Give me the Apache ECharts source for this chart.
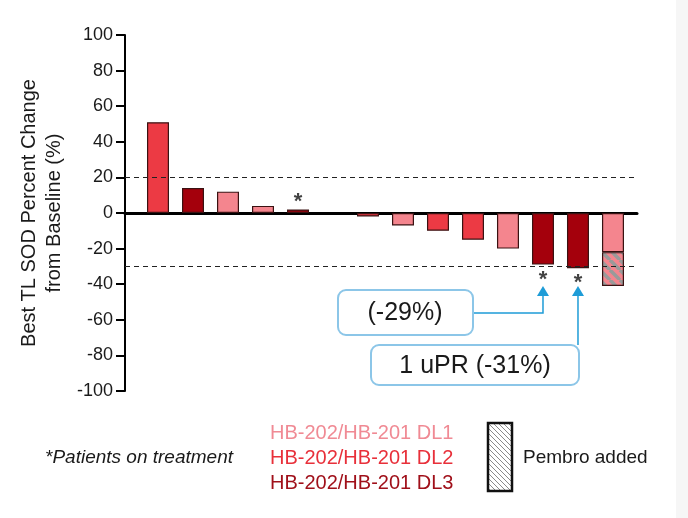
<!DOCTYPE html>
<html>
<head>
<meta charset="utf-8">
<script src="https://cdn.jsdelivr.net/npm/echarts@6/dist/echarts.min.js"></script>
<style>html,body{margin:0;padding:0;background:#fff}#c{width:688px;height:518px}</style>
</head>
<body>
<div id="c"></div>
<script>
// ---- data ----
const patients = ['P1','P2','P3','P4','P5','P6','P7','P8','P9','P10','P11','P12','P13','P14'];
const bestChange = [51, 14, 12, 4, 2, null, -2, -7, -10, -15, -20, -29, -31, -41];
const doseLevel = [2, 3, 1, 1, 3, null, 2, 1, 2, 2, 1, 3, 3, 1];
const pembroStart = [null, null, null, null, null, null, null, null, null, null, null, null, null, -22];
const onTreatment = [false, false, false, false, true, false, false, false, false, false, false, true, true, false];
const yTicks = [-100, -80, -60, -40, -20, 0, 20, 40, 60, 80, 100];
const refLines = [20, -30];
const legendLabels = ['HB-202/HB-201 DL1', 'HB-202/HB-201 DL2', 'HB-202/HB-201 DL3'];
const callouts = [{patient: 11, text: '(-29%)'}, {patient: 12, text: '1 uPR (-31%)'}];

const FONT = '"Liberation Sans", Arial, sans-serif';
const doseColors = {1: '#F4858E', 2: '#EC3A44', 3: '#A4000C'};
const legendColors = ['#F08A94', '#E8303A', '#A0101A'];
const border = '#3a1212';

function hatch(bg, stroke, size, lw) {
  const c = document.createElement('canvas');
  c.width = size; c.height = size;
  const g = c.getContext('2d');
  g.fillStyle = bg; g.fillRect(0, 0, size, size);
  g.strokeStyle = stroke; g.lineWidth = lw;
  for (const o of [-size, 0, size]) {
    g.beginPath(); g.moveTo(o, 0); g.lineTo(o + size, size); g.stroke();
  }
  return c;
}
const barHatch = {image: hatch(doseColors[1], '#9a9a9a', 10, 3.5), repeat: 'repeat'};
const legHatch = {image: hatch('#ffffff', '#8a8a8a', 5, 1), repeat: 'repeat'};

// data rows are [value, index] so that stacking happens on the y dimension
const baseData = bestChange.map((v, i) => {
  if (v == null) return [null, i];
  const val = pembroStart[i] != null ? pembroStart[i] : v;
  return {value: [val, i], itemStyle: {color: doseColors[doseLevel[i]]}};
});
const pembroData = bestChange.map((v, i) => pembroStart[i] != null ? [v - pembroStart[i], i] : [null, i]);
const starData = [];
bestChange.forEach((v, i) => { if (onTreatment[i]) starData.push({value: [i, v], label: {position: v >= 0 ? 'top' : 'bottom', distance: v >= 0 ? -3 : 4}}); });

const chart = echarts.init(document.getElementById('c'), null, {renderer: 'canvas'});
chart.setOption({
  animation: false,
  backgroundColor: '#ffffff',
  grid: {left: 125, right: 51, top: 35, bottom: 127},
  xAxis: {
    type: 'value', min: -0.943, max: 13.686,
    axisLine: {show: true, onZero: true, lineStyle: {color: '#000', width: 3}},
    axisTick: {show: false}, axisLabel: {show: false}, splitLine: {show: false}
  },
  yAxis: {
    type: 'value', min: yTicks[0], max: yTicks[yTicks.length - 1], interval: 20,
    axisLine: {show: true, onZero: false, lineStyle: {color: '#000', width: 2}},
    axisTick: {show: true, length: 9, lineStyle: {color: '#000', width: 2}},
    axisLabel: {fontSize: 18, color: '#1a1a1a', fontFamily: FONT, margin: 12},
    splitLine: {show: false}
  },
  series: [
    {
      type: 'bar', stack: 'total', barWidth: 22, data: baseData,
      encode: {x: 1, y: 0},
      itemStyle: {borderColor: border, borderWidth: 1.2},
      markLine: {
        silent: true, symbol: 'none', label: {show: false},
        lineStyle: {color: '#222', width: 1, type: [5, 4]},
        data: refLines.map(v => ({yAxis: v}))
      },
      z: 2
    },
    {
      type: 'bar', stack: 'total', barWidth: 22, data: pembroData,
      encode: {x: 1, y: 0},
      itemStyle: {color: barHatch, borderColor: border, borderWidth: 1.2},
      z: 2
    },
    {
      type: 'scatter', symbolSize: 0, data: starData,
      label: {show: true, formatter: '*', fontSize: 22, fontWeight: 'bold', color: '#111', fontFamily: FONT},
      z: 3
    }
  ]
});

const p11 = chart.convertToPixel({xAxisIndex: 0, yAxisIndex: 0}, [callouts[0].patient, 0]);
const p12 = chart.convertToPixel({xAxisIndex: 0, yAxisIndex: 0}, [callouts[1].patient, 0]);
const blue = '#1E9CD7', boxBlue = '#8CC6E8';
function arrowHead(x, tipY) {
  return {type: 'polygon', shape: {points: [[x, tipY], [x - 6, tipY + 10], [x + 6, tipY + 10]]}, style: {fill: blue}, z: 10};
}
const g = [
  {type: 'rect', shape: {x: 676, y: 0, width: 12, height: 518}, style: {fill: '#f6f6f6'}, z: 0},
  {type: 'text', x: 42, y: 213, rotation: Math.PI / 2,
   style: {text: 'Best TL SOD Percent Change\nfrom Baseline (%)', font: '20px ' + FONT, fill: '#1a1a1a', align: 'center', verticalAlign: 'middle', lineHeight: 25}},
  {type: 'polyline', shape: {points: [[473, 313], [p11[0], 313], [p11[0], 296]]}, style: {stroke: blue, lineWidth: 1.5, fill: null}, z: 9},
  arrowHead(p11[0], 286),
  {type: 'rect', shape: {x: 338, y: 290, width: 135, height: 45, r: 8}, style: {fill: '#fff', stroke: boxBlue, lineWidth: 2}, z: 10},
  {type: 'text', x: 405, y: 313, style: {text: callouts[0].text, font: '25px ' + FONT, fill: '#1a1a1a', align: 'center', verticalAlign: 'middle'}, z: 11},
  {type: 'line', shape: {x1: p12[0], y1: 345, x2: p12[0], y2: 296}, style: {stroke: blue, lineWidth: 1.5}, z: 9},
  arrowHead(p12[0], 286),
  {type: 'rect', shape: {x: 371, y: 345, width: 208, height: 40, r: 8}, style: {fill: '#fff', stroke: boxBlue, lineWidth: 2}, z: 10},
  {type: 'text', x: 475, y: 366, style: {text: callouts[1].text, font: '25px ' + FONT, fill: '#1a1a1a', align: 'center', verticalAlign: 'middle'}, z: 11},
  {type: 'text', x: 45, y: 458, style: {text: '*Patients on treatment', font: 'italic 19px ' + FONT, fill: '#1a1a1a', align: 'left', verticalAlign: 'middle'}},
  {type: 'rect', shape: {x: 488, y: 423, width: 24, height: 68}, style: {fill: legHatch, stroke: '#111', lineWidth: 2.5}},
  {type: 'text', x: 523, y: 458, style: {text: 'Pembro added', font: '19px ' + FONT, fill: '#1a1a1a', align: 'left', verticalAlign: 'middle'}}
];
legendLabels.forEach((t, i) => {
  g.push({type: 'text', x: 270, y: 433 + i * 25, style: {text: t, font: '20px ' + FONT, fill: legendColors[i], align: 'left', verticalAlign: 'middle'}});
});
chart.setOption({graphic: g});
</script>
</body>
</html>
